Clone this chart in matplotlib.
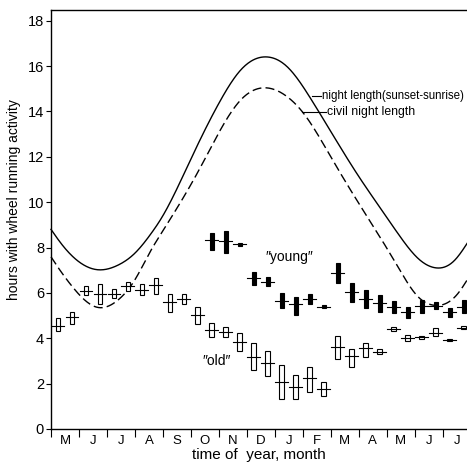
import numpy as np
import matplotlib
matplotlib.use("Agg")
import matplotlib.pyplot as plt
from matplotlib.patches import Rectangle

plt.rcParams['font.family'] = ['Liberation Sans', 'DejaVu Sans']

# month labels, starting 1 May
months = ["M", "J", "J", "A", "S", "O", "N", "D", "J", "F", "M", "A", "M", "J", "J"]

# night length (sunset-sunrise), hours; time in months from 1 May
night_t = [0.0, 0.36, 0.72, 1.08, 1.67, 2.39, 2.99, 3.58, 3.94, 5.0, 6.06, 6.77,
           7.73, 8.45, 9.28, 10.97, 11.68, 12.40, 13.12, 13.72, 14.43, 14.91]
night_h = [8.80, 8.18, 7.67, 7.30, 7.02, 7.22, 7.74, 8.62, 9.28, 11.9, 14.49, 15.81,
           16.40, 15.96, 14.57, 11.19, 9.90, 8.62, 7.52, 7.11, 7.44, 8.25]

# civil night length, hours
civil_t = [0.0, 0.36, 0.72, 1.08, 1.67, 2.39, 2.99, 3.58, 3.94, 5.3, 6.77, 7.67,
           8.45, 9.0, 10.0, 10.97, 11.68, 12.40, 13.12, 13.66, 14.55, 14.91]
civil_h = [7.59, 6.93, 6.34, 5.83, 5.36, 5.68, 6.56, 7.89, 8.62, 11.44, 14.49, 15.04,
           14.64, 13.96, 12.0, 10.01, 8.62, 7.15, 5.83, 5.46, 5.98, 6.64]

# "old" animals: half-monthly means with spread (lo/hi)
old_t = [0.25, 0.75, 1.25, 1.75, 2.25, 2.75, 3.25, 3.75, 4.25, 4.75,
         5.25, 5.75, 6.25, 6.75, 7.25, 7.75, 8.25, 8.75, 9.25, 9.75,
         10.25, 10.75, 11.25, 11.75, 12.25, 12.75, 13.25, 13.75, 14.25, 14.75]
old_mean = [4.55, 4.92, 6.09, 5.95, 5.95, 6.30, 6.12, 6.34, 5.61, 5.73,
            5.02, 4.36, 4.26, 3.85, 3.19, 2.92, 2.08, 1.86, 2.23, 1.75,
            3.60, 3.22, 3.55, 3.41, 4.42, 4.00, 4.04, 4.24, 3.92, 4.46]
old_lo = [4.34, 4.62, 5.90, 5.51, 5.76, 6.08, 5.90, 5.95, 5.15, 5.50,
          4.63, 4.07, 4.04, 3.44, 2.60, 2.33, 1.31, 1.31, 1.64, 1.45,
          3.07, 2.74, 3.19, 3.30, 4.32, 3.88, 3.98, 4.10, 3.86, 4.40]
old_hi = [4.88, 5.17, 6.30, 6.39, 6.15, 6.49, 6.39, 6.67, 5.95, 5.95,
          5.39, 4.66, 4.51, 4.24, 3.80, 3.44, 2.82, 2.38, 2.74, 2.08,
          4.10, 3.51, 3.78, 3.52, 4.50, 4.14, 4.10, 4.44, 3.98, 4.52]

# "young" animals
young_t = [5.75, 6.25, 6.75, 7.25, 7.75, 8.25, 8.75, 9.25, 9.75, 10.25,
           10.75, 11.25, 11.75, 12.25, 12.75, 13.25, 13.75, 14.25, 14.75]
young_mean = [8.33, 8.30, 8.14, 6.65, 6.50, 5.65, 5.51, 5.72, 5.39, 6.86,
              6.05, 5.71, 5.56, 5.36, 5.17, 5.42, 5.42, 5.17, 5.39]
young_lo = [7.89, 7.74, 8.08, 6.34, 6.30, 5.32, 5.02, 5.50, 5.33, 6.42,
            5.61, 5.32, 5.17, 5.10, 4.88, 5.10, 5.27, 4.92, 5.10]
young_hi = [8.62, 8.72, 8.20, 6.93, 6.71, 5.98, 5.83, 5.94, 5.45, 7.30,
            6.42, 6.12, 5.90, 5.65, 5.36, 5.68, 5.61, 5.32, 5.68]


def smooth(t, v, n=600):
    """Natural cubic spline through (t, v) for a smooth curve."""
    t = np.asarray(t, float)
    v = np.asarray(v, float)
    k = len(t)
    h = np.diff(t)
    A = np.zeros((k, k))
    r = np.zeros(k)
    A[0, 0] = A[-1, -1] = 1.0
    for i in range(1, k - 1):
        A[i, i - 1] = h[i - 1]
        A[i, i] = 2 * (h[i - 1] + h[i])
        A[i, i + 1] = h[i]
        r[i] = 6 * ((v[i + 1] - v[i]) / h[i] - (v[i] - v[i - 1]) / h[i - 1])
    m = np.linalg.solve(A, r)
    xs = np.linspace(t[0], t[-1], n)
    idx = np.clip(np.searchsorted(t, xs) - 1, 0, k - 2)
    x0, x1 = t[idx], t[idx + 1]
    hh = x1 - x0
    a = (x1 - xs) / hh
    b = (xs - x0) / hh
    ys = (a * v[idx] + b * v[idx + 1]
          + ((a ** 3 - a) * m[idx] + (b ** 3 - b) * m[idx + 1]) * hh ** 2 / 6)
    return xs, ys


fig = plt.figure(figsize=(4.67, 4.67), dpi=100)
ax = fig.add_axes([51 / 467, 38 / 467, 416 / 467, 419 / 467])

xs, ys = smooth(night_t, night_h)
ax.plot(xs, ys, color='black', lw=1.0, zorder=2, clip_on=False)
xs, ys = smooth(civil_t, civil_h)
ax.plot(xs, ys, color='black', lw=1.0, dashes=(6.5, 3.0), zorder=2, clip_on=False)

bar_len = 0.46
old_w = 0.17
young_w = 0.15

for t, m, lo, hi in zip(old_t, old_mean, old_lo, old_hi):
    ax.add_patch(Rectangle((t - old_w / 2, lo), old_w, hi - lo,
                           facecolor='white', edgecolor='black', lw=0.8, zorder=3))
    ax.plot([t - bar_len / 2, t + bar_len / 2], [m, m], color='black', lw=0.8, zorder=4)

for t, m, lo, hi in zip(young_t, young_mean, young_lo, young_hi):
    ax.add_patch(Rectangle((t - young_w / 2, lo), young_w, hi - lo,
                           facecolor='black', edgecolor='black', lw=0.8, zorder=3))
    ax.plot([t - bar_len / 2, t + bar_len / 2], [m, m], color='black', lw=0.8, zorder=4)

# curve annotations
ax.plot([9.34, 9.66], [14.68, 14.68], color='black', lw=0.8)
ax.text(9.68, 14.68, "night length(sunset-sunrise)", fontsize=8.3, va='center', ha='left')
ax.plot([8.96, 9.84], [13.96, 13.96], color='black', lw=0.8)
ax.text(9.86, 13.96, "civil night length", fontsize=8.8, va='center', ha='left')

ax.text(7.65, 7.6, "\u2033young\u2033", fontsize=10, va='center', ha='left')
ax.text(5.4, 3.0, "\u2033old\u2033", fontsize=10, va='center', ha='left')

ax.set_xlim(0, 14.87)
ax.set_ylim(0, 18.47)

ax.spines['right'].set_visible(False)
for s in ('left', 'bottom', 'top'):
    ax.spines[s].set_linewidth(1.0)

ax.set_yticks(np.arange(0, 19, 2))
ax.tick_params(axis='y', direction='out', length=3.5, width=0.8, pad=1.5, labelsize=10.5)

ax.set_xticks(np.arange(0, 15))
ax.set_xticklabels([])
ax.set_xticks(np.arange(15) + 0.5, minor=True)
ax.set_xticklabels(months, minor=True)
ax.tick_params(axis='x', which='major', direction='out', length=6, width=0.8)
ax.tick_params(axis='x', which='minor', length=0, pad=4.3, labelsize=9.5)

ax.set_xlabel("time of  year, month", fontsize=11, labelpad=1)
ax.set_ylabel("hours with wheel running activity", fontsize=10)
ax.yaxis.set_label_coords(-0.072, 0.547)

fig.savefig("out.png", dpi=100)
